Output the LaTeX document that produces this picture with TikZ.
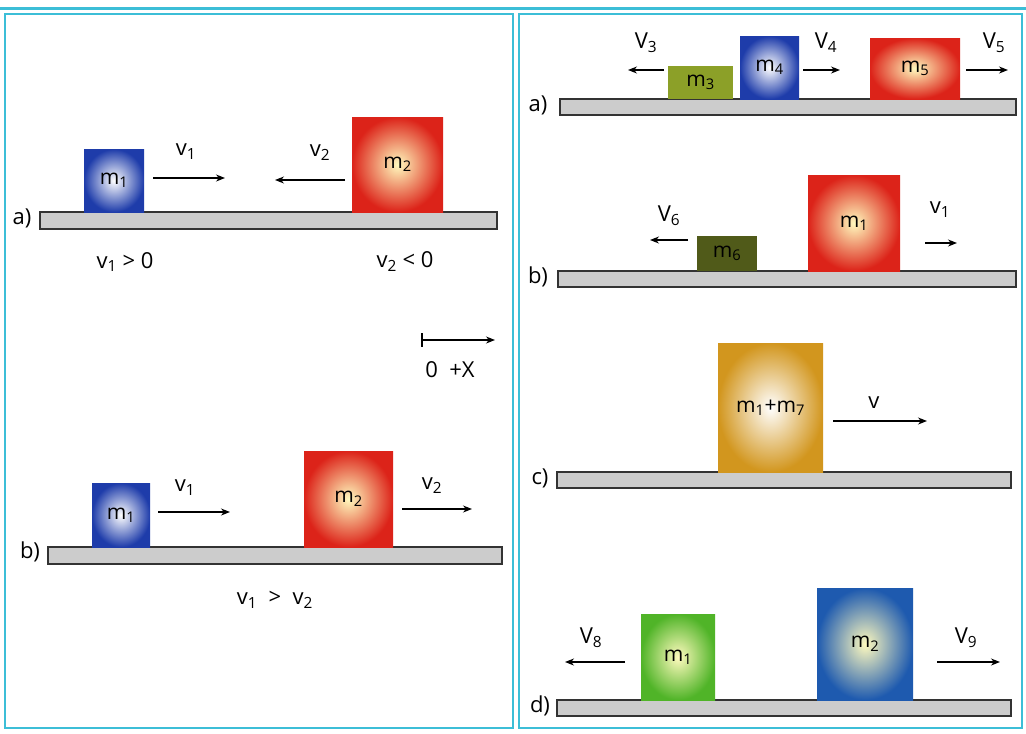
\documentclass[tikz,border=0pt]{standalone}
\usepackage{fontspec}
\setmainfont{Open Sans}
\usetikzlibrary{arrows.meta}
\newcommand{\sbx}[1]{\textsubscript{#1}}
\begin{document}
\begin{tikzpicture}[x=1pt,y=-1pt,
  panel/.style={draw=cyanb,line width=2pt},
  bar/.style={draw=black!80,fill=gray!40,line width=1.2pt},
  blk/.style={draw=none,inner sep=0pt,font=\fontsize{21}{23}\selectfont},
  arr/.style={-{Stealth[length=9pt,width=7pt]},line width=1.3pt},
  lab/.style={font=\fontsize{22}{24}\selectfont,inner sep=1pt}]
\definecolor{cyanb}{RGB}{60,190,215}
\definecolor{bl}{RGB}{30,60,170}
\definecolor{rd}{RGB}{220,35,25}
\definecolor{yl}{RGB}{255,250,190}
\useasboundingbox (0,0) rectangle (1026,734);
\fill[white] (0,0) rectangle (1026,734);
\draw[cyanb,line width=3pt] (0,8) -- (1026,8);
\draw[panel] (5,14) rectangle (513,728);
\draw[panel] (519,14) rectangle (1022,728);
% left a
\draw[bar] (40,212) rectangle (497,229);
\node[blk,shade,inner color=white,outer color=bl,minimum width=60pt,minimum height=63pt] (la1) at (114,180.5) {m\sbx{1}};
\node[blk,shade,inner color=yl,outer color=rd,minimum width=91pt,minimum height=95pt] (la2) at (397.5,164.5) {m\sbx{2}};
\draw[arr] (153,178) -- (225,178);
\draw[arr] (345,180) -- (275,180);
\node[lab] at (186,152) {v\sbx{1}};
\node[lab] at (320,153) {v\sbx{2}};
\node[lab] at (22,218) {a)};
\node[lab] at (125,262) {v\sbx{1} > 0};
\node[lab] at (405,262) {v\sbx{2} < 0};
\draw[line width=1.2pt] (422,333) -- (422,347);
\draw[arr] (422,340) -- (495,340);
\node[lab] at (450,370) {0\ \ +X};
% left b
\draw[bar] (48,547) rectangle (502,564);
\node[blk,shade,inner color=white,outer color=bl,minimum width=58pt,minimum height=64pt] (lb1) at (121,515) {m\sbx{1}};
\node[blk,shade,inner color=yl,outer color=rd,minimum width=89pt,minimum height=96pt] (lb2) at (348.5,499) {m\sbx{2}};
\draw[arr] (158,512) -- (230,512);
\draw[arr] (402,509) -- (472,509);
\node[lab] at (185,488) {v\sbx{1}};
\node[lab] at (432,486) {v\sbx{2}};
\node[lab] at (30,552) {b)};
\node[lab] at (275,600) {v\sbx{1} \ > \ v\sbx{2}};
% right a
\draw[bar] (560,99) rectangle (1016,115);
\node[blk,fill={rgb,255:red,140;green,160;blue,40},minimum width=65pt,minimum height=33pt] (ra3) at (700.5,82.5) {m\sbx{3}};
\node[blk,shade,inner color=white,outer color=bl,minimum width=59pt,minimum height=63pt] (ra4) at (769.5,67.5) {m\sbx{4}};
\node[blk,shade,inner color=yl,outer color=rd,minimum width=90pt,minimum height=61pt] (ra5) at (915,68.5) {m\sbx{5}};
\draw[arr] (664,70) -- (628,70);
\draw[arr] (803,70) -- (840,70);
\draw[arr] (966,70) -- (1008,70);
\node[lab] at (646,43) {V\sbx{3}};
\node[lab] at (826,43) {V\sbx{4}};
\node[lab] at (994,43) {V\sbx{5}};
\node[lab] at (538,105) {a)};
% right b
\draw[bar] (558,271) rectangle (1016,287);
\node[blk,fill={rgb,255:red,80;green,90;blue,25},minimum width=60pt,minimum height=35pt] (rb6) at (727,253.5) {m\sbx{6}};
\node[blk,shade,inner color=yl,outer color=rd,minimum width=92pt,minimum height=96pt] (rb1) at (854,223) {m\sbx{1}};
\draw[arr] (688,240) -- (650,240);
\draw[arr] (925,243) -- (957,243);
\node[lab] at (669,216) {V\sbx{6}};
\node[lab] at (940,210) {v\sbx{1}};
\node[lab] at (538,277) {b)};
% right c
\draw[bar] (557,472) rectangle (1011,488);
\node[blk,shade,inner color=white,outer color={rgb,255:red,210;green,150;blue,30},minimum width=105pt,minimum height=129pt] (rc) at (770.5,407.5) {m\sbx{1}+m\sbx{7}};
\draw[arr] (833,421) -- (927,421);
\node[lab] at (874,403) {v};
\node[lab] at (540,478) {c)};
% right d
\draw[bar] (557,700) rectangle (1011,716);
\node[blk,shade,inner color=yl,outer color={rgb,255:red,80;green,180;blue,40},minimum width=74pt,minimum height=86pt] (rd1) at (678,657) {m\sbx{1}};
\node[blk,shade,inner color=yl,outer color={rgb,255:red,30;green,90;blue,175},minimum width=96pt,minimum height=112pt] (rd2) at (865,644) {m\sbx{2}};
\draw[arr] (625,662) -- (565,662);
\draw[arr] (937,662) -- (1000,662);
\node[lab] at (591,638) {V\sbx{8}};
\node[lab] at (966,638) {V\sbx{9}};
\node[lab] at (540,706) {d)};
\end{tikzpicture}
\end{document}
